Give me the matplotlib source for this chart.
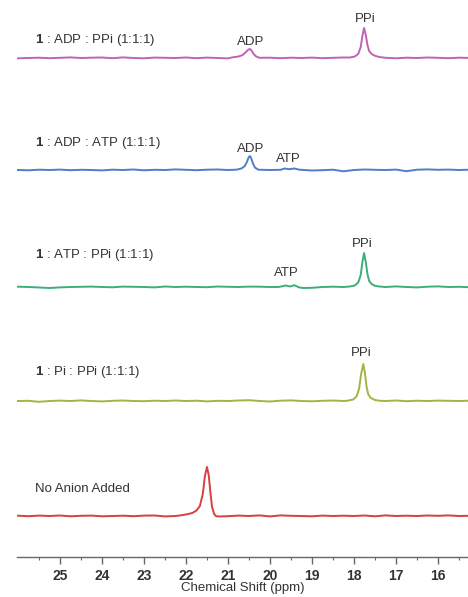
import numpy as np
import matplotlib
matplotlib.use("Agg")
import matplotlib.pyplot as plt

plt.rcParams['font.family'] = ['Liberation Sans', 'DejaVu Sans']
plt.rcParams['mathtext.fontset'] = 'custom'
plt.rcParams['mathtext.bf'] = 'Liberation Sans:bold'
plt.rcParams['mathtext.rm'] = 'Liberation Sans'

# ---------------- data ----------------
grid_ppm = [26.0 - 0.25 * i for i in range(44)]

base_purple = [-0.3, 0.0, 0.3, -0.2, 0.2, 0.6, 0.0, 0.3, 0.5, -0.2, 0.6, 0.0,
               -0.3, 0.4, 0.2, 0.0, 0.5, -0.2, 0.4, 0.0, -0.4, 0.5, 0.8, 1.2,
               0.3, -0.2, 0.3, 0.0, 0.4, -0.2, 0.2, 0.5, 0.0, 0.3, 0.8, 0.2,
               -0.3, 0.3, 0.0, 0.5, 0.2, -0.2, 0.3, 0.1]
base_blue = [0.0, -0.3, 0.3, 0.0, 0.4, -0.2, 0.2, 0.0, -0.4, 0.3, 0.0, 0.5,
             -0.3, 0.2, 0.0, 0.6, 0.2, -0.2, 0.3, 0.5, 0.0, 0.2, 0.5, 0.8,
             0.0, -0.3, 0.2, 0.0, -0.5, -0.2, 0.3, -1.3, 0.0, 0.5, 0.2, 0.0,
             0.4, -1.2, 0.3, 0.6, 0.2, 0.4, 0.0, 0.3]
base_green = [0.3, 0.0, -0.5, -1.0, -0.4, 0.0, 0.2, 0.4, 0.0, -0.3, 0.4, 0.2,
              0.0, -0.4, 0.5, 0.0, 0.3, 0.0, -0.2, 0.5, 0.2, 0.0, 0.4, 0.3,
              0.0, 0.5, 0.2, -0.3, -0.8, 0.0, 0.3, 0.0, 0.4, -0.3, 0.5, 0.0,
              0.6, 0.0, -0.4, 0.3, 0.6, 0.0, 0.2, -0.2]
base_yellow = [0.0, 0.2, -0.8, 0.0, 0.4, 0.0, 0.6, 0.0, -0.4, 0.2, 0.5, 0.0,
               -0.2, 0.3, 0.0, 0.5, 0.0, 0.3, -0.4, 0.2, 0.0, 0.5, 0.8, 0.0,
               -0.5, 0.3, 0.6, 0.0, -0.3, 0.2, 0.5, 0.0, 0.3, 0.0, 0.4, 0.0,
               0.5, -0.2, 0.3, 0.0, 0.4, 0.2, 0.0, 0.3]
base_red = [0.3, -0.2, 0.4, 0.0, 0.5, -0.3, 0.2, 0.4, -0.3, 0.0, 0.3, -0.2,
            0.4, 0.5, -0.4, 0.0, 0.5, 0.0, 0.0, 0.0, -0.2, 0.4, 0.0, 0.6,
            -0.4, 0.6, 0.2, 0.0, -0.3, 0.4, 0.0, 0.3, 0.0, 0.5, -0.3, 0.6,
            0.0, 0.3, 0.0, 0.5, 0.2, 0.6, 0.0, 0.2]

pk_purple_ppm = [20.9, 20.75, 20.65, 20.57, 20.52, 20.48, 20.44, 20.39, 20.33, 20.25,
                 18.1, 17.98, 17.9, 17.84, 17.8, 17.76, 17.72, 17.68, 17.64, 17.58, 17.5, 17.4]
pk_purple_val = [0.6, 1.5, 3.0, 6.0, 8.3, 9.0, 7.5, 4.0, 1.5, 0.2,
                 0.5, 1.5, 4.0, 11.0, 22.0, 30.0, 23.0, 13.0, 7.0, 4.0, 2.2, 1.0]

pk_blue_ppm = [20.8, 20.68, 20.6, 20.55, 20.51, 20.48, 20.45, 20.41, 20.36, 20.28,
               19.75, 19.65, 19.55, 19.42, 19.3]
pk_blue_val = [0.3, 1.5, 4.0, 8.0, 12.5, 14.0, 12.0, 7.0, 2.5, 0.3,
               0.2, 1.5, 0.8, 1.5, 0.3]

pk_green_ppm = [19.8, 19.62, 19.52, 19.42, 19.3, 19.2,
                18.1, 17.98, 17.9, 17.84, 17.8, 17.76, 17.72, 17.68, 17.64, 17.58, 17.5, 17.4]
pk_green_val = [0.0, 1.5, 0.5, 1.8, -0.5, -1.0,
                0.5, 1.5, 4.5, 12.0, 25.0, 34.0, 25.0, 13.0, 6.0, 3.0, 1.2, 0.5]

pk_yellow_ppm = [18.15, 18.02, 17.94, 17.88, 17.83, 17.78, 17.74, 17.7, 17.66, 17.6, 17.5, 17.4]
pk_yellow_val = [0.3, 1.5, 4.5, 12.0, 27.0, 37.0, 28.0, 14.0, 6.5, 3.0, 1.0, 0.3]

pk_red_ppm = [22.15, 22.0, 21.85, 21.75, 21.67, 21.6, 21.55, 21.5, 21.46, 21.42,
              21.38, 21.33, 21.28, 21.2]
pk_red_val = [0.5, 1.5, 3.0, 5.5, 10.0, 22.0, 40.0, 49.0, 41.0, 24.0,
              9.0, 2.0, -0.3, -0.5]

labels = ["1 : ADP : PPi (1:1:1)", "1 : ADP : ATP (1:1:1)", "1 : ATP : PPi (1:1:1)",
          "1 : Pi : PPi (1:1:1)", "No Anion Added"]
tick_values = [25, 24, 23, 22, 21, 20, 19, 18, 17, 16]

# ---------------- layout / style ----------------
W, H = 468, 597
colors = ["#c063b5", "#4f7fc6", "#3dae78", "#a3b443", "#d6403f"]
offsets = [499, 387, 270, 156, 41]
label_y = [517, 414, 302, 185, 68]


def merge(base, pk_ppm, pk_val):
    g = np.array(grid_ppm)
    b = np.array(base)
    pp = np.array(pk_ppm)
    keep = np.ones(len(g), bool)
    pps = np.sort(pp)[::-1]
    start = pps[0]
    prev = pps[0]
    clusters = []
    for p in pps[1:]:
        if prev - p > 0.5:
            clusters.append((prev, start))
            start = p
        prev = p
    clusters.append((prev, start))
    for a, bnd in clusters:
        keep &= ~((g >= a - 0.05) & (g <= bnd + 0.05))
    x = np.concatenate([g[keep], pp])
    y = np.concatenate([b[keep], np.array(pk_val)])
    o = np.argsort(-x)
    return x[o], y[o]


fig = plt.figure(figsize=(W / 100, H / 100), dpi=100)
ax = fig.add_axes([17 / W, 40 / H, 451 / W, 557 / H])

series = [(base_purple, pk_purple_ppm, pk_purple_val),
          (base_blue, pk_blue_ppm, pk_blue_val),
          (base_green, pk_green_ppm, pk_green_val),
          (base_yellow, pk_yellow_ppm, pk_yellow_val),
          (base_red, pk_red_ppm, pk_red_val)]

for (b, pp, pv), c, off in zip(series, colors, offsets):
    x, y = merge(b, pp, pv)
    ax.plot(x, y + off, color=c, lw=1.4, solid_joinstyle='round')

ax.set_xlim(26.024, 15.286)
ax.set_ylim(0, 557)

txtc = "#333333"
for lab, ly in zip(labels, label_y):
    if lab.startswith("1 "):
        s = r"$\mathbf{1}$" + lab[1:]
    else:
        s = lab
    ax.text(0.04, ly, s, transform=ax.get_yaxis_transform(), fontsize=9.5,
            color=txtc, va='center', ha='left')

# peak labels (ppm, y)
peak_labels = [("ADP", 20.45, 557 - 42), ("PPi", 17.74, 557 - 19),
               ("ADP", 20.45, 557 - 149), ("ATP", 19.57, 557 - 159),
               ("PPi", 17.81, 557 - 244), ("ATP", 19.6, 557 - 273),
               ("PPi", 17.83, 557 - 353)]
for t, px, py in peak_labels:
    ax.text(px, py, t, fontsize=9.5, color=txtc, ha='center', va='center')

for s in ['top', 'left', 'right']:
    ax.spines[s].set_visible(False)
ax.spines['bottom'].set_color('#666666')
ax.spines['bottom'].set_linewidth(1.0)
ax.set_yticks([])
ax.set_xticks(tick_values)
ax.set_xticks(np.arange(25.5, 15.2, -0.5), minor=True)
ax.tick_params(axis='x', which='major', direction='out', length=5, width=1,
               color='#666666', labelsize=10, labelcolor='#333333', pad=4)
ax.tick_params(axis='x', which='minor', direction='out', length=2.5, width=0.8,
               color='#666666')
for lbl in ax.get_xticklabels():
    lbl.set_fontweight('bold')
ax.set_xlabel("Chemical Shift (ppm)", fontsize=9.5, color='#333333', labelpad=-1)

fig.savefig("out.png", dpi=100)
